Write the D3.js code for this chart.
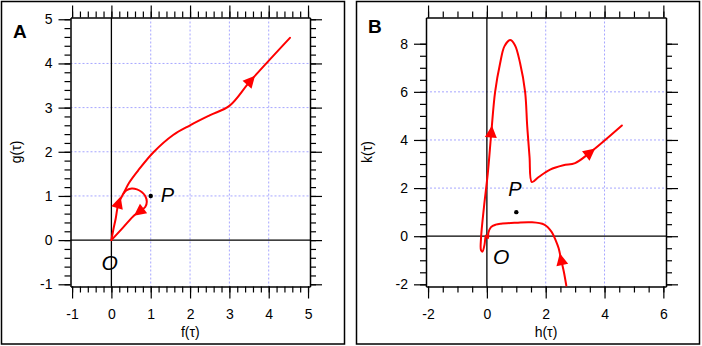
<!DOCTYPE html>
<html>
<head>
<meta charset="utf-8">
<script src="https://cdn.jsdelivr.net/npm/d3@7/dist/d3.min.js"></script>
<style>
  body { margin: 0; background: #fff; }
  svg { display: block; font-family: "Liberation Sans", Arial, Helvetica, sans-serif; }
</style>
</head>
<body>
<svg id="chart" width="702" height="346"></svg>
<script>
// Panel A: trajectory (f, g); panel B: trajectory (h, k)
const branchA = [[0,0],[0.05,0.24],[0.11,0.49],[0.18,0.83],[0.31,1.06],[0.45,1.3],[0.7,1.6],
  [1.07,1.99],[1.57,2.38],[2.0,2.6],[2.51,2.83],[3.0,3.04],[3.53,3.6],[4.54,4.58]];
const loopA = [[0.31,1.06],[0.39,1.13],[0.52,1.17],[0.65,1.15],[0.77,1.09],[0.86,1.0],[0.9,0.87],
  [0.86,0.75],[0.72,0.65],[0.59,0.57],[0.3,0.29],[0,0]];
const pathB = [[2.7,-2.05],[2.62,-1.5],[2.53,-1.0],[2.44,-0.5],[2.35,-0.2],[2.2,0.18],[1.95,0.48],
  [1.5,0.58],[1.0,0.56],[0.48,0.52],[0.3,0.48],[0.14,0.38],[0.05,0.14],[0.04,-0.08],[-0.03,0.03],
  [-0.08,-0.35],[-0.15,-0.64],[-0.2,-0.58],[-0.2,-0.1],[-0.1,1.2],[0.03,2.6],[0.15,4.3],[0.28,6.0],
  [0.45,7.19],[0.6,7.9],[0.79,8.15],[0.95,7.95],[1.13,7.19],[1.3,6.0],[1.37,4.6],[1.45,3.3],
  [1.53,2.25],[1.76,2.46],[2.15,2.77],[2.6,2.95],[3.0,3.04],[3.49,3.46],[4.59,4.6]];

// arrowheads: [series, index of point]
const arrowsA = [[branchA, 3], [loopA, 8], [branchA, 12]];
const arrowsB = [[pathB, 2], [pathB, 21], [pathB, 36]];

const pointP = [1, 1];

// tick values
const xTicksA = [-1, 0, 1, 2, 3, 4, 5];
const yTicksA = [-1, 0, 1, 2, 3, 4, 5];
const xTicksB = [-2, 0, 2, 4, 6];
const yTicksB = [-2, 0, 2, 4, 6, 8];

const svg = d3.select("#chart");

// outer frames
svg.append("rect").attr("x", 1.5).attr("y", 1.5).attr("width", 343).attr("height", 342.5)
  .attr("fill", "none").attr("stroke", "#000").attr("stroke-width", 1.5);
svg.append("rect").attr("x", 356.5).attr("y", 1.5).attr("width", 343).attr("height", 342.5)
  .attr("fill", "none").attr("stroke", "#000").attr("stroke-width", 1.5);

function drawPanel(cfg) {
  const x = d3.scaleLinear().domain(cfg.xDomain).range(cfg.xRange);
  const y = d3.scaleLinear().domain(cfg.yDomain).range([286.5, 17.5]);
  const g = svg.append("g");
  const [x0, x1] = cfg.xRange;
  const fmt = d => String(d);

  // dotted grid
  const xGrid = cfg.xTicks.filter(d => d !== 0 && d !== cfg.xTicks[0] && d !== cfg.xTicks[cfg.xTicks.length - 1]);
  const yGrid = cfg.yTicks.filter(d => d !== 0 && d !== cfg.yTicks[0] && d !== cfg.yTicks[cfg.yTicks.length - 1]);
  g.selectAll(".gx").data(xGrid).enter().append("line")
    .attr("x1", d => x(d)).attr("x2", d => x(d)).attr("y1", 17.5).attr("y2", 286.5)
    .attr("stroke", "#a6a6ff").attr("stroke-width", 1).attr("stroke-dasharray", "2,2");
  g.selectAll(".gy").data(yGrid).enter().append("line")
    .attr("x1", x0).attr("x2", x1).attr("y1", d => y(d)).attr("y2", d => y(d))
    .attr("stroke", "#a6a6ff").attr("stroke-width", 1).attr("stroke-dasharray", "2,2");

  // zero lines
  g.append("line").attr("x1", x(0)).attr("x2", x(0)).attr("y1", 17.5).attr("y2", 286.5)
    .attr("stroke", "#000").attr("stroke-width", 1.3);
  g.append("line").attr("x1", x0).attr("x2", x1).attr("y1", y(0)).attr("y2", y(0))
    .attr("stroke", "#000").attr("stroke-width", 1.3);

  // axes: minor ticks then major ticks on four sides
  const xMinor = d3.range(cfg.xTicks[0], cfg.xTicks[cfg.xTicks.length - 1] + 1e-6, cfg.xMinor);
  const yMinor = d3.range(cfg.yTicks[0], cfg.yTicks[cfg.yTicks.length - 1] + 1e-6, cfg.yMinor);
  const sides = [
    [d3.axisBottom(x), `translate(0,286.5)`, xMinor, cfg.xTicks, true],
    [d3.axisTop(x), `translate(0,17.5)`, xMinor, cfg.xTicks, false],
    [d3.axisLeft(y), `translate(${x0},0)`, yMinor, cfg.yTicks, true],
    [d3.axisRight(y), `translate(${x1},0)`, yMinor, cfg.yTicks, false]
  ];
  sides.forEach(([ax, tr, minor, major, labels]) => {
    g.append("g").attr("transform", tr)
      .call(ax.tickValues(minor).tickSize(6).tickSizeOuter(0).tickFormat(""))
      .call(s => s.select(".domain").attr("stroke-width", 1.5));
    const m = g.append("g").attr("transform", tr)
      .call(ax.tickValues(major).tickSize(12).tickSizeOuter(0)
        .tickPadding(labels ? (ax === sides[0][0] ? 11 : 6) : 0)
        .tickFormat(labels ? fmt : ""));
    m.select(".domain").remove();
    m.selectAll("text").attr("font-size", 14).attr("font-family", null).attr("fill", "#000");
  });
  g.selectAll(".tick line").attr("stroke-width", 1.2);

  // axis titles
  g.append("text").attr("x", (x0 + x1) / 2).attr("y", 337).attr("text-anchor", "middle")
    .attr("font-size", 14).text(cfg.xLabel);
  g.append("text").attr("transform", `translate(${cfg.yLabelX},152) rotate(-90)`)
    .attr("text-anchor", "middle").attr("font-size", 14).text(cfg.yLabel);

  // panel letter
  g.append("text").attr("x", cfg.letterX).attr("y", cfg.letterY).attr("font-size", 19)
    .attr("font-weight", "bold").text(cfg.letter);

  // trajectory
  const line = d3.line().x(d => x(d[0])).y(d => y(d[1])).curve(d3.curveCatmullRom.alpha(0.5));
  cfg.series.forEach(s => {
    g.append("path").attr("d", line(s)).attr("fill", "none").attr("stroke", "#ff0000")
      .attr("stroke-width", 2).attr("stroke-linejoin", "round").attr("stroke-linecap", "round");
  });

  // arrowheads oriented along the path
  cfg.arrows.forEach(([s, i]) => {
    const p = [x(s[i][0]), y(s[i][1])];
    const a = s[Math.max(i - 1, 0)], b = s[Math.min(i + 1, s.length - 1)];
    let dx = x(b[0]) - x(a[0]), dy = y(b[1]) - y(a[1]);
    const L = Math.hypot(dx, dy); dx /= L; dy /= L;
    const len = 12, hw = 6;
    const tip = [p[0] + dx * len * 0.6, p[1] + dy * len * 0.6];
    const bc = [p[0] - dx * len * 0.4, p[1] - dy * len * 0.4];
    const pts = [tip, [bc[0] - dy * hw, bc[1] + dx * hw], [bc[0] + dy * hw, bc[1] - dx * hw]];
    g.append("polygon").attr("points", pts.map(q => q.join(",")).join(" ")).attr("fill", "#ff0000");
  });

  // point P and labels
  g.append("circle").attr("cx", x(pointP[0])).attr("cy", y(pointP[1])).attr("r", 2.2).attr("fill", "#000");
  g.append("text").attr("x", x(pointP[0]) + cfg.pOff[0]).attr("y", y(pointP[1]) + cfg.pOff[1])
    .attr("font-size", 20).attr("font-style", "italic").text("P");
  g.append("text").attr("x", x(0) + cfg.oOff[0]).attr("y", y(0) + cfg.oOff[1])
    .attr("font-size", 21).attr("font-style", "italic").text("O");
}

drawPanel({
  xDomain: [-1.04, 5.05], xRange: [70.5, 310], yDomain: [-1.05, 5.04],
  xTicks: xTicksA, yTicks: yTicksA, xMinor: 0.2, yMinor: 0.2,
  xLabel: "f(\u03c4)", yLabel: "g(\u03c4)", yLabelX: 21,
  letter: "A", letterX: 13, letterY: 38,
  series: [branchA, loopA], arrows: arrowsA,
  pOff: [10, 6], oOff: [-10, 30]
});

drawPanel({
  xDomain: [-2.07, 6.09], xRange: [426, 666], yDomain: [-2.09, 9.09],
  xTicks: xTicksB, yTicks: yTicksB, xMinor: 0.5, yMinor: 0.5,
  xLabel: "h(\u03c4)", yLabel: "k(\u03c4)", yLabelX: 372,
  letter: "B", letterX: 368, letterY: 33,
  series: [pathB], arrows: arrowsB,
  pOff: [-8, -16], oOff: [6, 28]
});
</script>
</body>
</html>
